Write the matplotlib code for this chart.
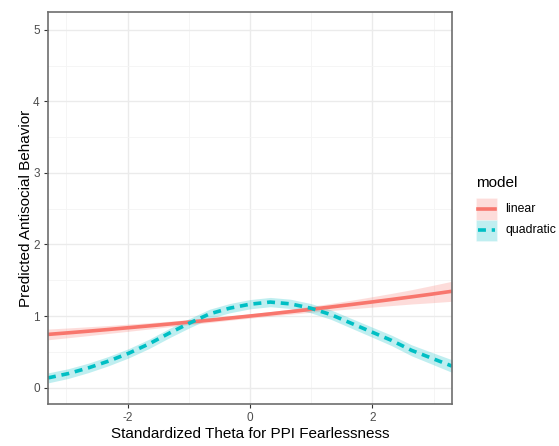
"""
Predicted antisocial behavior across standardized PPI fearlessness theta,
linear vs quadratic model fits with confidence ribbons.
"""
import matplotlib.pyplot as plt
import matplotlib.patches as mpatches
from matplotlib.lines import Line2D
import numpy as np

plt.rcParams["font.family"] = ["Liberation Sans", "DejaVu Sans"]
plt.rcParams["axes.unicode_minus"] = False

# theta grid and model predictions
theta = [-3.30, -2.97, -2.64, -2.31, -1.98, -1.65, -1.32, -0.99, -0.66, -0.33, 0.00,
         0.33, 0.66, 0.99, 1.32, 1.65, 1.98, 2.31, 2.64, 2.97, 3.30]

linear_fit = [0.743, 0.765, 0.788, 0.812, 0.837, 0.862, 0.888, 0.915, 0.942, 0.971, 1.000,
              1.030, 1.061, 1.093, 1.126, 1.160, 1.195, 1.231, 1.268, 1.306, 1.346]
linear_se = [0.075, 0.068, 0.062, 0.055, 0.050, 0.044, 0.039, 0.035, 0.032, 0.030, 0.030,
             0.032, 0.036, 0.042, 0.050, 0.060, 0.072, 0.085, 0.100, 0.120, 0.140]

quad_fit = [0.135, 0.195, 0.275, 0.370, 0.480, 0.610, 0.760, 0.900, 1.030, 1.110, 1.165,
            1.195, 1.170, 1.110, 1.020, 0.900, 0.780, 0.660, 0.520, 0.410, 0.300]
quad_se = [0.070, 0.068, 0.066, 0.065, 0.065, 0.065, 0.065, 0.065, 0.065, 0.065, 0.065,
           0.065, 0.065, 0.065, 0.066, 0.068, 0.070, 0.073, 0.077, 0.082, 0.088]

MODELS = ["linear", "quadratic"]
COLORS = ["#F8766D", "#00BFC4"]
STYLES = ["-", (0, (2.2, 1.6))]

W, H = 559, 446
fig = plt.figure(figsize=(W / 100, H / 100), dpi=100)
ax = fig.add_axes([48 / W, 42 / H, 404 / W, 392 / H])

x = np.array(theta)
series = [(np.array(linear_fit), np.array(linear_se)),
          (np.array(quad_fit), np.array(quad_se))]
for (fit, se), col, ls in zip(series, COLORS, STYLES):
    ax.fill_between(x, fit - se, fit + se, color=col, alpha=0.25, linewidth=0)
    ax.plot(x, fit, color=col, linestyle=ls, linewidth=2.6,
            solid_capstyle="butt", solid_joinstyle="round")

ax.set_xlim(-3.3, 3.3)
ax.set_ylim(-0.23, 5.25)
ax.set_xticks([-2, 0, 2])
ax.set_yticks([0, 1, 2, 3, 4, 5])
ax.set_xticks([-3, -1, 1, 3], minor=True)
ax.set_yticks([0.5, 1.5, 2.5, 3.5, 4.5], minor=True)
ax.grid(which="major", color="#EBEBEB", linewidth=1.0)
ax.grid(which="minor", color="#F4F4F4", linewidth=0.6)
ax.set_axisbelow(True)
ax.tick_params(which="major", length=3, color="#333333", labelcolor="#4D4D4D",
               labelsize=8.5, pad=3)
ax.tick_params(which="minor", length=0)
for sp in ax.spines.values():
    sp.set_color("#6E6E6E")
    sp.set_linewidth(1.2)

ax.set_xlabel("Standardized Theta for PPI Fearlessness", fontsize=11, labelpad=2)
ax.set_ylabel("Predicted Antisocial Behavior", fontsize=11, labelpad=0)

# legend drawn by hand, in pixel positions of the figure
def fx(px):
    return px / W

def fy(py):
    return 1 - py / H

fig.text(fx(476), fy(183), "model", fontsize=11, va="center", ha="left")
key_x, key_w, key_h = 476, 21, 21.5
for i, (name, col, ls) in enumerate(zip(MODELS, COLORS, STYLES)):
    top = 198 + i * key_h
    fig.patches.append(mpatches.Rectangle(
        (fx(key_x), fy(top + key_h)), key_w / W, key_h / H,
        facecolor=col, alpha=0.25, edgecolor="white", linewidth=0.8,
        transform=fig.transFigure, figure=fig))
    mid = fy(top + key_h / 2)
    fig.lines.append(Line2D([fx(key_x + 2), fx(key_x + key_w - 2)], [mid, mid],
                            color=col, linestyle=ls, linewidth=2.6,
                            transform=fig.transFigure, figure=fig))
    fig.text(fx(505), mid, name, fontsize=8.8, va="center", ha="left")

fig.savefig("out.png", dpi=100)
